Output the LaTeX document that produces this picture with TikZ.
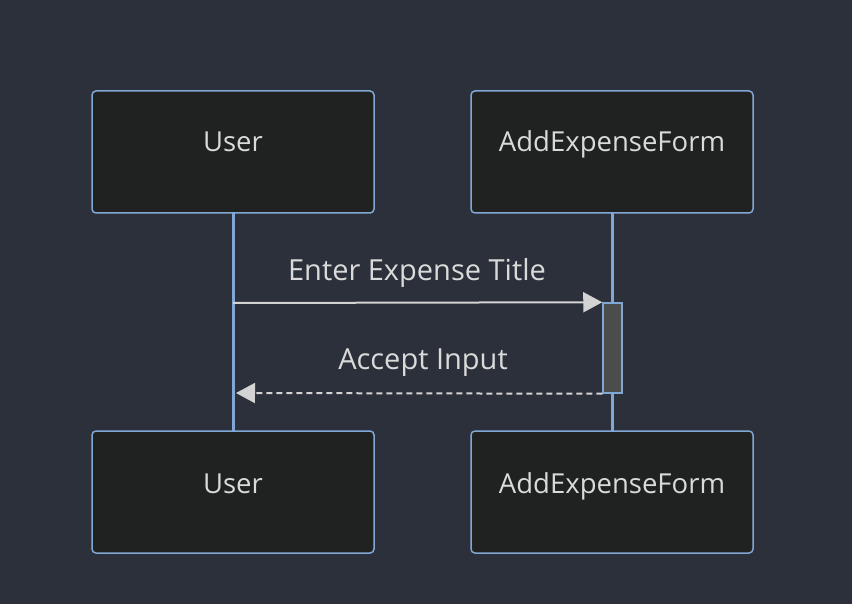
\documentclass[tikz,border=0pt]{standalone}
\usepackage{fontspec}
\setmainfont{Open Sans}
\usetikzlibrary{arrows.meta}
\definecolor{bg}{HTML}{2C303B}
\definecolor{boxfill}{HTML}{202121}
\definecolor{boxline}{HTML}{81A8D5}
\definecolor{actfill}{HTML}{4A4D4B}
\definecolor{msg}{HTML}{D3D3D3}
\definecolor{txt}{HTML}{DADADA}
\tikzset{
  actor/.style={draw=boxline, fill=boxfill, line width=1.5pt, rounded corners=4pt,
    minimum width=282pt, minimum height=122pt, inner sep=0pt},
  life/.style={draw=boxline, line width=3pt},
  act/.style={draw=boxline, fill=actfill, line width=1.5pt, minimum width=19pt, minimum height=90pt, inner sep=0pt},
  msgline/.style={draw=msg, line width=2pt, -{Triangle[length=19pt,width=20pt]}},
  lbl/.style={text=txt, font=\fontsize{27.5}{32}\selectfont, inner sep=0pt, anchor=base},
  msglbl/.style={lbl, font=\fontsize{29}{34}\selectfont},
}
\begin{document}
\begin{tikzpicture}[x=1pt,y=-1pt]
\fill[bg] (0,0) rectangle (852,604);
\useasboundingbox (0,0) rectangle (852,604);
\coordinate (u1) at (233,213);
\coordinate (u2) at (233,431);
\coordinate (f1) at (612,213);
\coordinate (f2) at (612,431);
\draw[life] (u1) -- (u2);
\draw[life] (f1) -- (f2);
\node[actor] (ut) at (233,152) {};
\node[actor] (ft) at (612,152) {};
\node[actor] (ub) at (233,492) {};
\node[actor] (fb) at (612,492) {};
\node[lbl] (tut) at (233,152) {User};
\node[lbl] (tft) at (612,152) {AddExpenseForm};
\node[lbl] (tub) at (233,493) {User};
\node[lbl] (tfb) at (612,493) {AddExpenseForm};
\node[act] (a) at (612.5,348) {};
\coordinate (s1) at (233,303);
\coordinate (r2) at (236,393);
\draw[msgline] (s1) -- (a.north west);
\draw[msgline, dash pattern=on 6pt off 4pt] (a.south west) -- (r2);
\node[msglbl] (l1) at (417,280) {Enter Expense Title};
\node[msglbl] (l2) at (423,369) {Accept Input};
\end{tikzpicture}
\end{document}
